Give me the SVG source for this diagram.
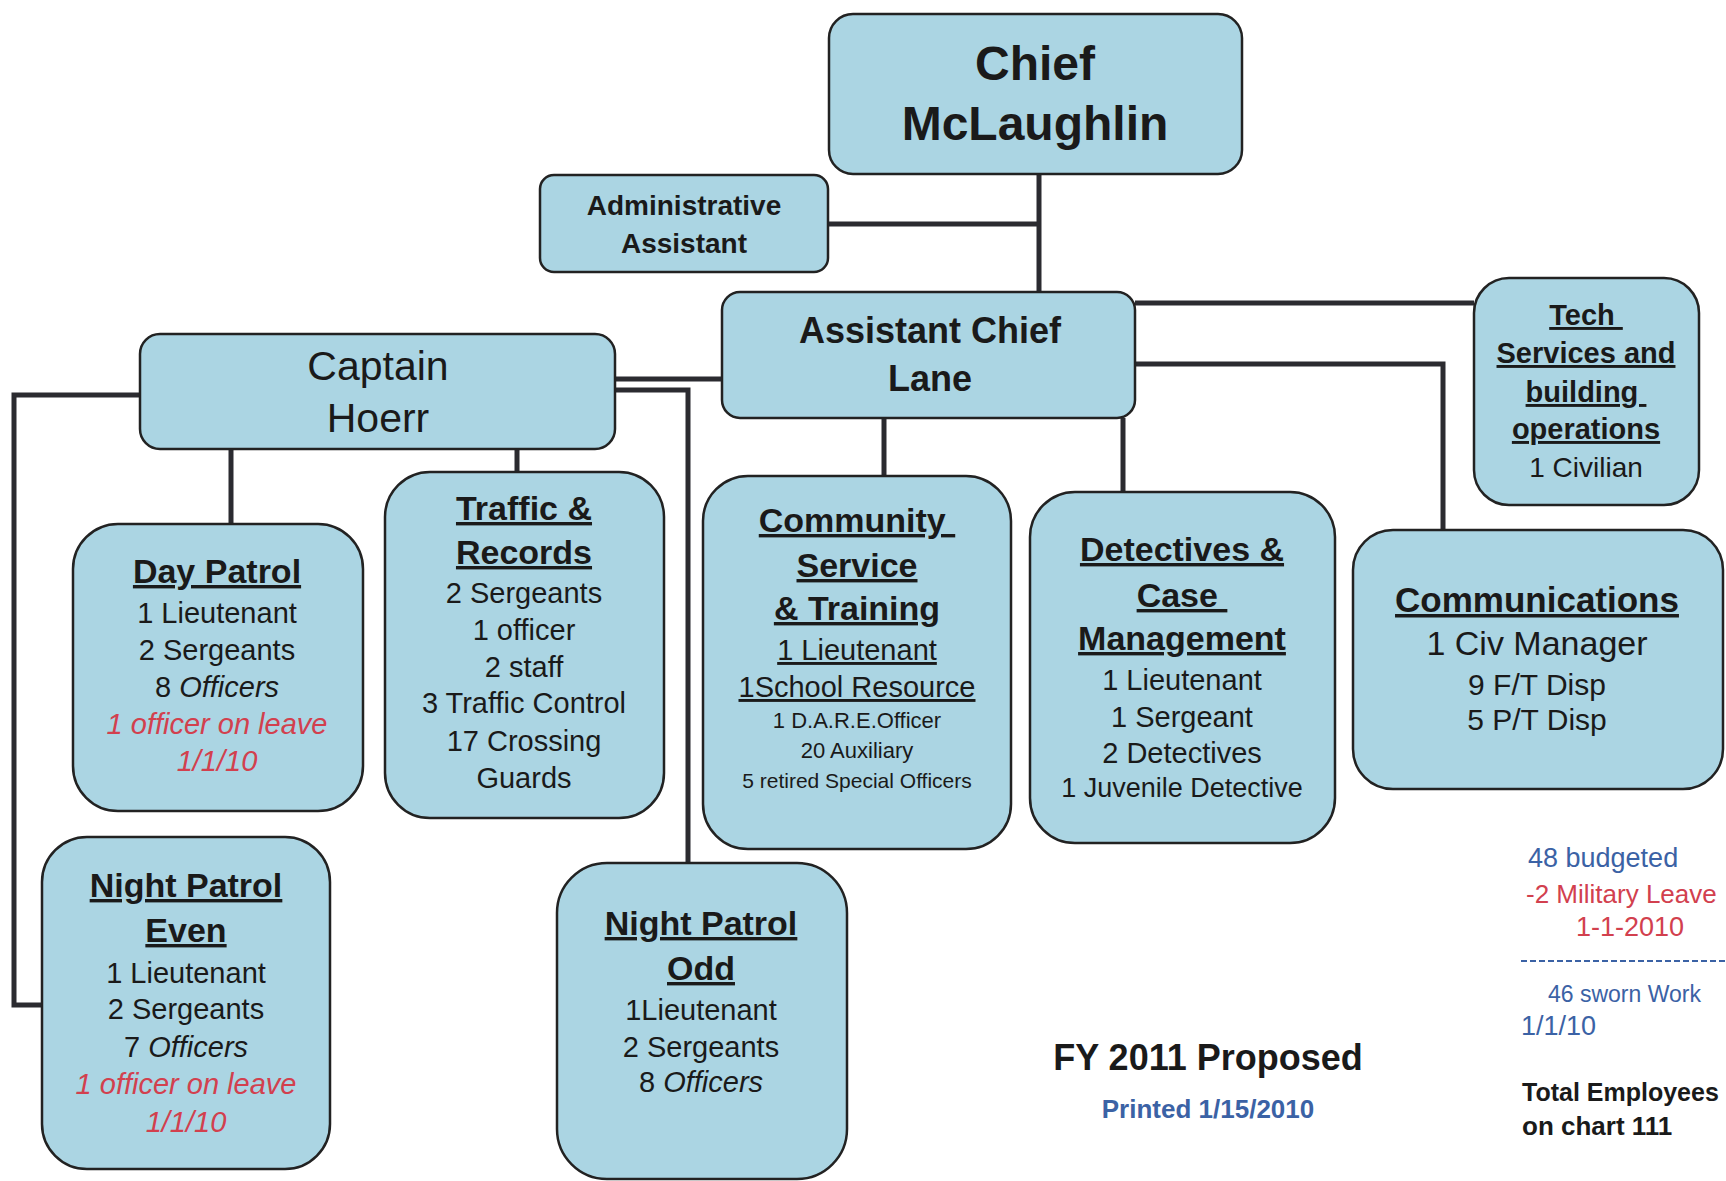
<svg xmlns="http://www.w3.org/2000/svg" width="1726" height="1181" viewBox="0 0 1726 1181">
<style>
.box{fill:#abd5e3;stroke:#222;stroke-width:2.5}
.conn{fill:none;stroke:#2b2b30;stroke-width:5}
text{font-family:"Liberation Sans",Arial,sans-serif;fill:#1a1a1a}
.c{text-anchor:middle}
.b{font-weight:bold}
.u{text-decoration:underline}
.h{font-size:34px;font-weight:bold;text-decoration:underline}
.l{font-size:29px}
.s{font-size:22px}
.red{fill:#d2404e;font-style:italic}
.i{font-style:italic}
.blue{fill:#3b62a5}
.note{font-size:27px}
</style>
<rect width="1726" height="1181" fill="#ffffff"/>
<g id="connectors">
<line class="conn" x1="1039" y1="174" x2="1039" y2="292"/>
<line class="conn" x1="828" y1="224" x2="1039" y2="224"/>
<line class="conn" x1="615" y1="379" x2="722" y2="379"/>
<path class="conn" d="M615,390 H688 V863"/>
<line class="conn" x1="231" y1="449" x2="231" y2="524"/>
<line class="conn" x1="517" y1="449" x2="517" y2="472"/>
<path class="conn" d="M140,395 H14 V1005 H42"/>
<line class="conn" x1="1135" y1="303" x2="1474" y2="303"/>
<path class="conn" d="M1135,364 H1443 V530"/>
<line class="conn" x1="884" y1="418" x2="884" y2="476"/>
<line class="conn" x1="1123" y1="418" x2="1123" y2="492"/>
</g>
<g id="chief">
<rect class="box" x="829" y="14" width="413" height="160" rx="24"/>
<text class="c b" x="1035" y="80" font-size="48">Chief</text>
<text class="c b" x="1035" y="140" font-size="48">McLaughlin</text>
</g>
<g id="admin">
<rect class="box" x="540" y="175" width="288" height="97" rx="14"/>
<text class="c b" x="684" y="215" font-size="28">Administrative</text>
<text class="c b" x="684" y="253" font-size="28">Assistant</text>
</g>
<g id="asst-chief">
<rect class="box" x="722" y="292" width="413" height="126" rx="18"/>
<text class="c b" x="930" y="343" font-size="36">Assistant Chief</text>
<text class="c b" x="930" y="391" font-size="36">Lane</text>
</g>
<g id="captain">
<rect class="box" x="140" y="334" width="475" height="115" rx="20"/>
<text class="c" x="378" y="380" font-size="41">Captain</text>
<text class="c" x="378" y="432" font-size="41">Hoerr</text>
</g>
<g id="tech">
<rect class="box" x="1474" y="278" width="225" height="227" rx="35"/>
<text class="c b u" x="1586" y="325" font-size="29" xml:space="preserve">Tech </text>
<text class="c b u" x="1586" y="363" font-size="29">Services and</text>
<text class="c b u" x="1586" y="402" font-size="29" xml:space="preserve">building </text>
<text class="c b u" x="1586" y="439" font-size="29">operations</text>
<text class="c" x="1586" y="477" font-size="28">1 Civilian</text>
</g>
<g id="day-patrol">
<rect class="box" x="73" y="524" width="290" height="287" rx="45"/>
<text class="c h" x="217" y="583">Day Patrol</text>
<text class="c l" x="217" y="623">1 Lieutenant</text>
<text class="c l" x="217" y="660">2 Sergeants</text>
<text class="c l" x="217" y="697">8 <tspan class="i">Officers</tspan></text>
<text class="c l red" x="217" y="734">1 officer on leave</text>
<text class="c l red" x="217" y="771">1/1/10</text>
</g>
<g id="traffic">
<rect class="box" x="385" y="472" width="279" height="346" rx="45"/>
<text class="c h" x="524" y="520">Traffic &amp;</text>
<text class="c h" x="524" y="564">Records</text>
<text class="c l" x="524" y="603">2 Sergeants</text>
<text class="c l" x="524" y="640">1 officer</text>
<text class="c l" x="524" y="677">2 staff</text>
<text class="c l" x="524" y="713">3 Traffic Control</text>
<text class="c l" x="524" y="751">17 Crossing</text>
<text class="c l" x="524" y="788">Guards</text>
</g>
<g id="community">
<rect class="box" x="703" y="476" width="308" height="373" rx="45"/>
<text class="c h" x="857" y="532" xml:space="preserve">Community </text>
<text class="c h" x="857" y="577">Service</text>
<text class="c h" x="857" y="620">&amp; Training</text>
<text class="c l u" x="857" y="660">1 Lieutenant</text>
<text class="c l u" x="857" y="697">1School Resource</text>
<text class="c s" x="857" y="728">1 D.A.R.E.Officer</text>
<text class="c s" x="857" y="758">20 Auxiliary</text>
<text class="c" x="857" y="788" font-size="21">5 retired Special Officers</text>
</g>
<g id="detectives">
<rect class="box" x="1030" y="492" width="305" height="351" rx="45"/>
<text class="c h" x="1182" y="561">Detectives &amp;</text>
<text class="c h" x="1182" y="607" xml:space="preserve">Case </text>
<text class="c h" x="1182" y="650">Management</text>
<text class="c l" x="1182" y="690">1 Lieutenant</text>
<text class="c l" x="1182" y="727">1 Sergeant</text>
<text class="c l" x="1182" y="763">2 Detectives</text>
<text class="c" x="1182" y="797" font-size="27">1 Juvenile Detective</text>
</g>
<g id="communications">
<rect class="box" x="1353" y="530" width="370" height="259" rx="40"/>
<text class="c b u" x="1537" y="612" font-size="35">Communications</text>
<text class="c" x="1537" y="655" font-size="34">1 Civ Manager</text>
<text class="c" x="1537" y="695" font-size="30">9 F/T Disp</text>
<text class="c" x="1537" y="730" font-size="30">5 P/T Disp</text>
</g>
<g id="night-even">
<rect class="box" x="42" y="837" width="288" height="332" rx="45"/>
<text class="c h" x="186" y="897">Night Patrol</text>
<text class="c h" x="186" y="942">Even</text>
<text class="c l" x="186" y="983">1 Lieutenant</text>
<text class="c l" x="186" y="1019">2 Sergeants</text>
<text class="c l" x="186" y="1057">7 <tspan class="i">Officers</tspan></text>
<text class="c l red" x="186" y="1094">1 officer on leave</text>
<text class="c l red" x="186" y="1132">1/1/10</text>
</g>
<g id="night-odd">
<rect class="box" x="557" y="863" width="290" height="316" rx="50"/>
<text class="c h" x="701" y="935">Night Patrol</text>
<text class="c h" x="701" y="980">Odd</text>
<text class="c l" x="701" y="1020">1Lieutenant</text>
<text class="c l" x="701" y="1057">2 Sergeants</text>
<text class="c l" x="701" y="1092">8 <tspan class="i">Officers</tspan></text>
</g>
<g id="title">
<text class="c b" x="1208" y="1070" font-size="36">FY 2011 Proposed</text>
<text class="c b blue" x="1208" y="1118" font-size="26">Printed 1/15/2010</text>
</g>
<g id="notes">
<text class="note blue" x="1528" y="867">48 budgeted</text>
<text x="1526" y="903" font-size="26" style="fill:#d2404e">-2 Military Leave</text>
<text class="note" x="1576" y="936" style="fill:#d2404e">1-1-2010</text>
<line x1="1521" y1="961" x2="1726" y2="961" stroke="#3b62a5" stroke-width="2" stroke-dasharray="6 3"/>
<text class="blue" x="1548" y="1002" font-size="23">46 sworn Work</text>
<text class="note blue" x="1521" y="1035">1/1/10</text>
<text class="b" x="1522" y="1101" font-size="25">Total Employees</text>
<text class="b" x="1522" y="1135" font-size="26">on chart 111</text>
</g>
</svg>
